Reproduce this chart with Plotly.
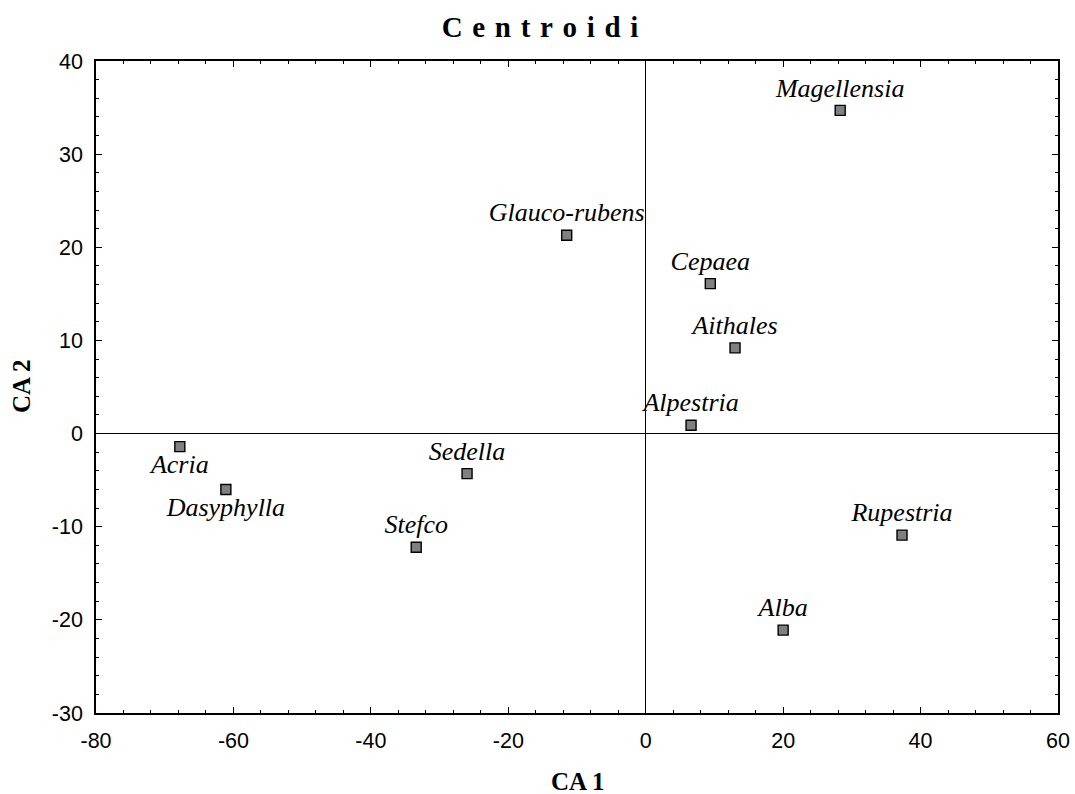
import plotly.graph_objects as go

# Centroid coordinates on the first two correspondence-analysis axes
names = ["Magellensia", "Glauco-rubens", "Cepaea", "Aithales", "Alpestria",
         "Acria", "Dasyphylla", "Sedella", "Stefco", "Rupestria", "Alba"]
ca1 = [28.3, -11.5, 9.4, 13.0, 6.6, -67.8, -61.1, -26.0, -33.4, 37.3, 20.0]
ca2 = [34.7, 21.3, 16.1, 9.2, 0.9, -1.4, -6.0, -4.3, -12.2, -10.9, -21.1]
label_pos = ["top center"] * 5 + ["bottom center", "bottom center"] + ["top center"] * 4

x_ticks = [-80, -60, -40, -20, 0, 20, 40, 60]
y_ticks = [-30, -20, -10, 0, 10, 20, 30, 40]

title_text = "Centroidi"
x_title = "CA 1"
y_title = "CA 2"

serif = "Liberation Serif, Times New Roman, serif"
sans = "Liberation Sans, Arial, sans-serif"

fig = go.Figure()
fig.add_trace(go.Scatter(
    x=ca1, y=ca2, mode="markers+text",
    text=names, textposition=label_pos,
    textfont=dict(family=serif, size=26, color="black", style="italic"),
    marker=dict(symbol="square", size=10, color="#808080",
                line=dict(color="black", width=1.4)),
    cliponaxis=False, showlegend=False, hoverinfo="skip",
))

axis_common = dict(
    showgrid=False, zeroline=True, zerolinecolor="black", zerolinewidth=1.3,
    showline=True, linecolor="black", linewidth=1.5, mirror="ticks",
    ticks="inside", ticklen=6, tickwidth=1.3, tickcolor="black",
    tickfont=dict(family=sans, size=21.5, color="black"),
    automargin=False,
)

# Spaced-out lettering for the heading
spaced_title = "\u2004".join(title_text)

fig.update_layout(
    width=1075, height=794,
    margin=dict(l=96, r=17, t=61, b=81),
    paper_bgcolor="white", plot_bgcolor="white",
    title=dict(text=f"<b>{spaced_title}</b>", x=540 / 1075, xref="container",
               y=1 - 27 / 794, yref="container", xanchor="center", yanchor="middle",
               font=dict(family=serif, size=29, color="black")),
    xaxis=dict(range=[-80, 60], tickvals=x_ticks, ticktext=[str(v) for v in x_ticks],
               minor=dict(ticks="inside", ticklen=3, tickwidth=1, tickcolor="black", dtick=4),
               ticklabelstandoff=7,
               **axis_common),
    yaxis=dict(range=[-30, 40], tickvals=y_ticks, ticktext=[str(v) for v in y_ticks],
               minor=dict(ticks="inside", ticklen=3, tickwidth=1, tickcolor="black", dtick=2),
               ticklabelstandoff=7,
               **axis_common),
    annotations=[
        dict(text=f"<b>{x_title}</b>", x=0.5, xref="paper", y=0, yref="paper",
             xanchor="center", yanchor="top", yshift=-53, showarrow=False,
             font=dict(family=serif, size=25, color="black")),
        dict(text=f"<b>{y_title}</b>", x=0, xref="paper", y=0.5, yref="paper",
             xanchor="center", yanchor="middle", xshift=-75, textangle=-90,
             showarrow=False, font=dict(family=serif, size=25, color="black")),
    ],
)

fig.write_html("out.html")
